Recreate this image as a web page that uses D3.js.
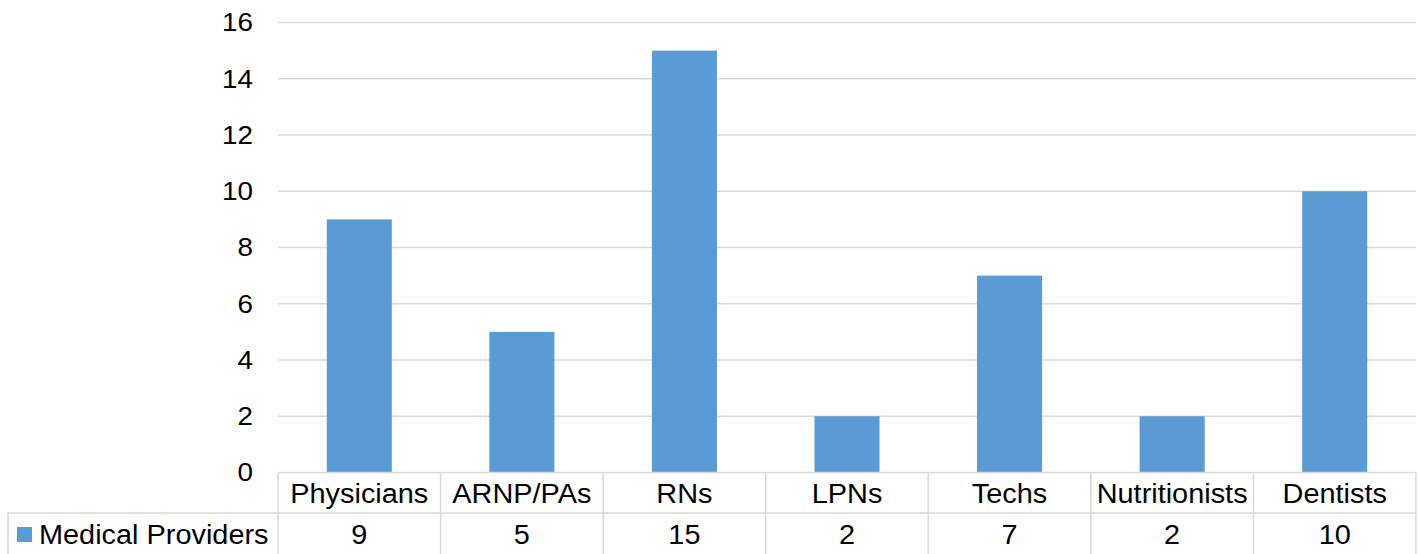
<!DOCTYPE html>
<html><head><meta charset="utf-8">
<script src="https://cdn.jsdelivr.net/npm/d3@7/dist/d3.min.js"></script>
<style>body{margin:0;background:#fff}svg{display:block}text{font-family:"Liberation Sans",Arial,sans-serif;fill:#000}</style>
</head><body>
<script>
const categories = ["Physicians","ARNP/PAs","RNs","LPNs","Techs","Nutritionists","Dentists"];
const seriesName = "Medical Providers";
const values = [9,5,15,2,7,2,10];
const yTicks = [0,2,4,6,8,10,12,14,16];

(function(){
const W=1420,H=554;
const pl=278,pr=1416,pt=22.5,pb=472.5;
const svg=d3.select("body").append("svg").attr("width",W).attr("height",H);
const x=d3.scaleBand().domain(categories).range([pl,pr]).paddingInner(0).paddingOuter(0);
const y=d3.scaleLinear().domain([0,16]).range([pb,pt]);
const grid="#d9d9d9", barColor="#5b9bd5";
const sx=1.07;

// gridlines
svg.append("g").selectAll("line").data(yTicks.filter(d=>d>0)).join("line")
  .attr("x1",pl).attr("x2",pr).attr("y1",d=>y(d)).attr("y2",d=>y(d))
  .attr("stroke",grid).attr("stroke-width",1.5);

// y axis labels
const yAxis=d3.axisLeft(y).tickValues(yTicks).tickSize(0).tickPadding(0);
const ga=svg.append("g").attr("transform",`translate(253,0)`).call(yAxis);
ga.select(".domain").remove();
ga.selectAll("text").attr("font-size",26).attr("font-family","Liberation Sans, Arial, sans-serif")
  .attr("fill","#000").attr("transform",`scale(${sx},1)`).attr("x",0);

// bars
const bw=x.bandwidth()*0.4;
svg.append("g").selectAll("rect").data(values).join("rect")
  .attr("x",(d,i)=>x(categories[i])+x.bandwidth()/2-bw/2)
  .attr("width",bw)
  .attr("y",d=>y(d)).attr("height",d=>y(0)-y(d))
  .attr("fill",barColor);

// data table
const t=svg.append("g").attr("stroke",grid).attr("stroke-width",1.5);
const r1=472.5, r2=513, r3=555;
t.append("line").attr("x1",pl).attr("x2",pr).attr("y1",r1).attr("y2",r1);
t.append("line").attr("x1",8).attr("x2",pr).attr("y1",r2).attr("y2",r2);
t.append("line").attr("x1",8).attr("x2",8).attr("y1",r2).attr("y2",r3);
const bounds=categories.map(c=>x(c)).concat([pr]);
t.selectAll("line.v").data(bounds).join("line").attr("class","v")
  .attr("x1",d=>d).attr("x2",d=>d).attr("y1",r1).attr("y2",r3);

const fs=27;
svg.append("g").selectAll("text").data(categories).join("text")
  .attr("transform",c=>`translate(${x(c)+x.bandwidth()/2},503) scale(${sx},1)`)
  .attr("text-anchor","middle").attr("font-size",fs).text(c=>c);
svg.append("g").selectAll("text").data(values).join("text")
  .attr("transform",(d,i)=>`translate(${x(categories[i])+x.bandwidth()/2},544) scale(${sx},1)`)
  .attr("text-anchor","middle").attr("font-size",fs).text(d=>d);

svg.append("rect").attr("x",17).attr("y",527).attr("width",15).attr("height",15).attr("fill",barColor);
svg.append("text").attr("transform",`translate(39,544) scale(${sx},1)`).attr("font-size",fs).text(seriesName);
})();
</script>
</body></html>
